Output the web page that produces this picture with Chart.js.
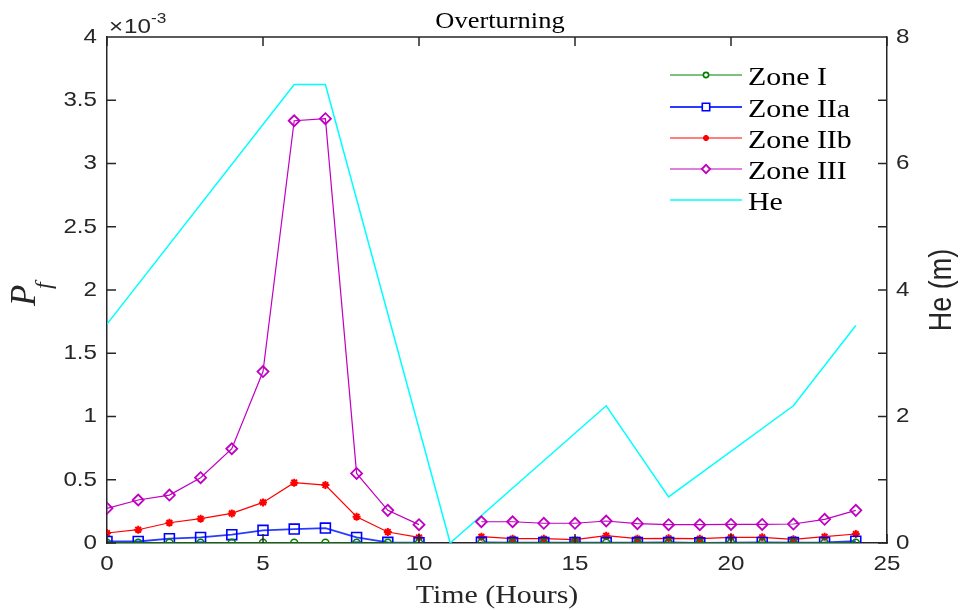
<!DOCTYPE html>
<html>
<head>
<meta charset="utf-8">
<script src="https://cdn.jsdelivr.net/npm/chart.js@4.4.1/dist/chart.umd.min.js"></script>
<style>
  html, body { margin: 0; padding: 0; background: #fff; }
</style>
</head>
<body>
<canvas id="pfChart" width="965" height="610"></canvas>
<script>
// hours 0..24, hour 11 has no value (gap in the zone curves)
const hours = [0,1,2,3,4,5,6,7,8,9,10,11,12,13,14,15,16,17,18,19,20,21,22,23,24];

// Pf values, in units of 1e-3
const zoneI   = [0.002,0.002,0.002,0.002,0.002,0.002,0.002,0.002,0.002,0.002,0.002,null,0.002,0.002,0.002,0.002,0.002,0.002,0.002,0.002,0.002,0.002,0.002,0.002,0.002];
const zoneIIa = [0.012,0.012,0.034,0.044,0.066,0.100,0.110,0.118,0.044,0.005,0.002,null,0.005,0.003,0.003,0.003,0.003,0.003,0.004,0.001,0.003,0.004,0.003,0.004,0.014];
const zoneIIb = [0.079,0.105,0.160,0.192,0.234,0.321,0.477,0.458,0.208,0.087,0.044,null,0.050,0.034,0.034,0.026,0.058,0.034,0.037,0.034,0.045,0.045,0.029,0.050,0.071];
const zoneIII = [0.274,0.340,0.379,0.516,0.745,1.355,3.338,3.354,0.550,0.258,0.145,null,0.168,0.168,0.156,0.156,0.174,0.153,0.145,0.145,0.147,0.147,0.150,0.187,0.258];

// He (m), right axis, read at the corners of the curve
const heHours  = [0, 6, 7, 11, 16, 18, 22, 24];
const heValues = [3.46, 7.25, 7.25, 0, 2.17, 0.73, 2.17, 3.44];

const xTicks = [0, 5, 10, 15, 20, 25];

const toPoints = (xs, ys) => xs.map((x, i) => ({x: x, y: ys[i]}));

const axisColor = '#262626';
const sansFont = '"Liberation Sans", Arial, Helvetica, sans-serif';
const serifFont = '"Liberation Serif", "Times New Roman", serif';
const STRETCH = 1.15;

function wideText(ctx, text, x, y, sx) {
    ctx.save();
    ctx.translate(x, y);
    ctx.scale(sx, 1);
    ctx.fillText(text, 0, 0);
    ctx.restore();
}

// draw text with given alignment while keeping the horizontal stretch
function wideAligned(ctx, text, x, y, align) {
    const w = ctx.measureText(text).width * STRETCH;
    let left = x;
    if (align === 'center') left = x - w / 2;
    if (align === 'right') left = x - w;
    wideText(ctx, text, left, y, STRETCH);
}

// inward ticks, box, tick labels, titles and legend (matlab look)
const matlabFrame = {
    id: 'matlabFrame',
    afterDraw(chart) {
        const ctx = chart.ctx;
        const a = chart.chartArea;
        const xs = chart.scales.x, yl = chart.scales.y, yr = chart.scales.y1;
        const tl = 9;
        ctx.save();
        ctx.strokeStyle = axisColor;
        ctx.lineWidth = 1.5;
        ctx.beginPath();
        // box top
        ctx.moveTo(a.left, a.top); ctx.lineTo(a.right, a.top);
        xs.ticks.forEach(t => {
            const px = xs.getPixelForValue(t.value);
            ctx.moveTo(px, a.bottom); ctx.lineTo(px, a.bottom - tl);
            ctx.moveTo(px, a.top); ctx.lineTo(px, a.top + tl);
        });
        yl.ticks.forEach(t => {
            const py = yl.getPixelForValue(t.value);
            ctx.moveTo(a.left, py); ctx.lineTo(a.left + tl, py);
        });
        yr.ticks.forEach(t => {
            const py = yr.getPixelForValue(t.value);
            ctx.moveTo(a.right, py); ctx.lineTo(a.right - tl, py);
        });
        ctx.stroke();

        // tick labels
        ctx.fillStyle = axisColor;
        ctx.textBaseline = 'middle';
        ctx.textAlign = 'left';
        ctx.font = '21px ' + sansFont;
        xs.ticks.forEach(t => {
            wideAligned(ctx, String(t.value), xs.getPixelForValue(t.value), a.bottom + 21, 'center');
        });
        yl.ticks.forEach(t => {
            wideAligned(ctx, String(+t.value.toFixed(1)), a.left - 10, yl.getPixelForValue(t.value), 'right');
        });
        yr.ticks.forEach(t => {
            if (t.value % 2 === 0) {
                wideAligned(ctx, String(t.value), a.right + 9, yr.getPixelForValue(t.value), 'left');
            }
        });

        // title
        ctx.textBaseline = 'alphabetic';
        ctx.fillStyle = '#000';
        ctx.font = '23px ' + serifFont;
        wideAligned(ctx, 'Overturning', 500, 28, 'center');

        // x label
        ctx.fillStyle = axisColor;
        ctx.font = '26px ' + serifFont;
        wideAligned(ctx, 'Time (Hours)', (a.left + a.right) / 2, 603, 'center');

        // exponent label
        ctx.font = '21px ' + sansFont;
        let cx = a.left + 2;
        wideText(ctx, '\u00d7', cx, 33, STRETCH);
        cx += ctx.measureText('\u00d7').width * STRETCH + 1;
        wideText(ctx, '10', cx, 33, STRETCH);
        cx += ctx.measureText('10').width * STRETCH;
        ctx.font = '15px ' + sansFont;
        wideText(ctx, '-3', cx, 23, STRETCH);

        // left label P_f
        const mid = (a.top + a.bottom) / 2;
        ctx.save();
        ctx.translate(35, mid + 16);
        ctx.rotate(-Math.PI / 2);
        ctx.font = 'italic 35px ' + serifFont;
        ctx.fillText('P', 0, 0);
        ctx.font = 'italic 24px ' + serifFont;
        ctx.fillText('f', 17, 16);
        ctx.restore();

        // right label
        ctx.save();
        ctx.translate(951, mid);
        ctx.rotate(-Math.PI / 2);
        ctx.scale(1, STRETCH);
        ctx.textAlign = 'center';
        ctx.font = '27px ' + sansFont;
        ctx.fillText('He (m)', 0, 0);
        ctx.restore();

        // legend
        const rows = [75, 107, 138, 169, 200];
        chart.data.datasets.forEach((ds, i) => {
            const y = rows[i];
            ctx.strokeStyle = ds.borderColor;
            ctx.lineWidth = ds.borderWidth;
            ctx.beginPath();
            ctx.moveTo(670, y); ctx.lineTo(742, y);
            ctx.stroke();
            if (ds.pointRadius > 0) {
                ctx.strokeStyle = ds.pointBorderColor;
                ctx.fillStyle = ds.pointStyle === 'star' ? ds.pointBackgroundColor : '#fff';
                ctx.lineWidth = ds.pointBorderWidth;
                Chart.helpers.drawPoint(ctx, {
                    pointStyle: ds.pointStyle,
                    radius: ds.pointRadius * 0.75,
                    borderWidth: ds.pointBorderWidth,
                    rotation: 0
                }, 706, y);
            }
            ctx.fillStyle = '#000';
            ctx.font = '26px ' + serifFont;
            wideText(ctx, ds.label, 748, y + 10, STRETCH);
        });
        ctx.restore();
    }
};

const ctx = document.getElementById('pfChart');

new Chart(ctx, {
    type: 'line',
    data: {
        datasets: [
            {
                label: 'Zone I',
                data: toPoints(hours, zoneI),
                borderColor: 'rgb(0,128,0)', borderWidth: 1.2,
                pointStyle: 'circle', pointRadius: 3.5, pointBorderWidth: 1.6,
                pointBorderColor: 'rgb(0,128,0)', pointBackgroundColor: 'rgba(0,0,0,0)',
                yAxisID: 'y', spanGaps: false
            },
            {
                label: 'Zone IIa',
                data: toPoints(hours, zoneIIa),
                borderColor: 'rgb(40,60,255)', borderWidth: 1.8,
                pointStyle: 'rect', pointRadius: 7, pointBorderWidth: 1.6,
                pointBorderColor: 'rgb(0,0,255)', pointBackgroundColor: 'rgba(0,0,0,0)',
                yAxisID: 'y', spanGaps: false
            },
            {
                label: 'Zone IIb',
                data: toPoints(hours, zoneIIb),
                borderColor: 'rgb(255,0,0)', borderWidth: 1.2,
                pointStyle: 'star', pointRadius: 4, pointBorderWidth: 2,
                pointBorderColor: 'rgb(255,0,0)', pointBackgroundColor: 'rgb(255,0,0)',
                yAxisID: 'y', spanGaps: false
            },
            {
                label: 'Zone III',
                data: toPoints(hours, zoneIII),
                borderColor: 'rgb(192,0,192)', borderWidth: 1.2,
                pointStyle: 'rectRot', pointRadius: 5.5, pointBorderWidth: 1.8,
                pointBorderColor: 'rgb(192,0,192)', pointBackgroundColor: 'rgba(0,0,0,0)',
                yAxisID: 'y', spanGaps: false
            },
            {
                label: 'He',
                data: toPoints(heHours, heValues),
                borderColor: 'rgb(0,255,255)', borderWidth: 1.5,
                pointRadius: 0, pointBorderWidth: 0, pointBorderColor: 'rgb(0,255,255)',
                yAxisID: 'y1'
            }
        ]
    },
    options: {
        responsive: false,
        animation: false,
        layout: { padding: { top: 37, left: 0, right: 0, bottom: 0 } },
        elements: { line: { tension: 0 } },
        plugins: {
            legend: { display: false },
            title: { display: false },
            tooltip: { enabled: false }
        },
        scales: {
            x: {
                type: 'linear', min: 0, max: 25,
                afterBuildTicks: s => { s.ticks = xTicks.map(v => ({value: v})); },
                ticks: { display: false },
                grid: { display: false, drawTicks: false },
                border: { display: true, color: axisColor, width: 1.5 },
                afterFit: s => { s.height = 67; }
            },
            y: {
                position: 'left', min: 0, max: 4,
                ticks: { stepSize: 0.5, display: false },
                grid: { display: false, drawTicks: false },
                border: { display: true, color: axisColor, width: 1.5 },
                afterFit: s => { s.width = 107; }
            },
            y1: {
                position: 'right', min: 0, max: 8,
                ticks: { stepSize: 1, display: false },
                grid: { display: false, drawTicks: false },
                border: { display: true, color: axisColor, width: 1.5 },
                afterFit: s => { s.width = 78; }
            }
        }
    },
    plugins: [matlabFrame]
});
</script>
</body>
</html>
